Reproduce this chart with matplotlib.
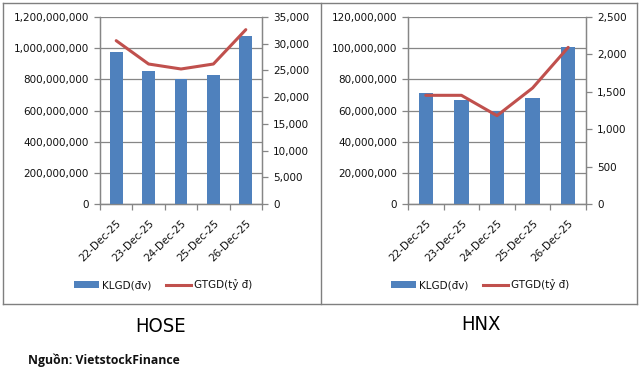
import matplotlib
matplotlib.use("Agg")
import matplotlib.pyplot as plt
from matplotlib.ticker import FuncFormatter, MultipleLocator
from matplotlib.patches import Patch
from matplotlib.lines import Line2D

dates = ["22-Dec-25", "23-Dec-25", "24-Dec-25", "25-Dec-25", "26-Dec-25"]
hose_vol = [977e6, 856e6, 804e6, 830e6, 1080e6]
hose_val = [30570, 26200, 25270, 26200, 32630]
hnx_vol = [71.4e6, 67.0e6, 59.7e6, 68.2e6, 101e6]
hnx_val = [1453, 1453, 1181, 1551, 2094]
legend_labels = ["KLGD(\u0111v)", "GTGD(t\u1ef7 \u0111)"]
titles = ["HOSE", "HNX"]
source = "Ngu\u1ed3n: VietstockFinance"

W, H = 639, 373
fig = plt.figure(figsize=(W / 100, H / 100), dpi=100)
plt.rcParams['font.family'] = ['DejaVu Sans']

BAR = "#4F81BD"
LINE = "#C0504D"
GRID = "#868686"
FS = 7.5

def fx(px):
    return px / W

def fy(py):
    return 1 - py / H

fmt = FuncFormatter(lambda v, p: f"{int(round(v)):,}")

def panel(left_px, right_px, vol, val, ymax1, step1, ymax2, step2, legend_cx):
    ax = fig.add_axes([fx(left_px), fy(204), fx(right_px - left_px), (204 - 17) / H])
    x = list(range(len(dates)))
    ax.bar(x, vol, width=0.4, color=BAR, zorder=3)
    ax.set_xlim(-0.5, len(dates) - 0.5)
    ax.set_ylim(0, ymax1)
    ax.yaxis.set_major_locator(MultipleLocator(step1))
    ax.yaxis.set_major_formatter(fmt)
    ax.grid(axis="y", color=GRID, lw=0.9, zorder=0)
    ax.set_axisbelow(True)
    ax2 = ax.twinx()
    ax2.plot(x, val, color=LINE, lw=2.2, zorder=4, solid_capstyle="round")
    ax2.set_ylim(0, ymax2)
    ax2.yaxis.set_major_locator(MultipleLocator(step2))
    ax2.yaxis.set_major_formatter(fmt)
    for a in (ax, ax2):
        a.spines["top"].set_visible(False)
        for s in ("left", "right", "bottom"):
            a.spines[s].set_color(GRID)
            a.spines[s].set_linewidth(0.9)
        a.tick_params(axis="y", length=4, width=0.9, color=GRID, labelsize=FS, pad=4, labelcolor="#111111")
    ax.set_xticks([i - 0.5 for i in range(len(dates) + 1)])
    ax.set_xticklabels([])
    ax.set_xticks(x, minor=True)
    ax.set_xticklabels(dates, minor=True, rotation=45, ha="right", va="top",
                       rotation_mode="anchor", fontsize=FS, color="#111111")
    ax.tick_params(axis="x", which="major", length=4, width=0.9, color=GRID)
    ax.tick_params(axis="x", which="minor", length=0, pad=10)
    handles = [Patch(facecolor=BAR, edgecolor="none"),
               Line2D([0], [0], color=LINE, lw=2.2)]
    fig.legend(handles, legend_labels, loc="center", bbox_to_anchor=(fx(legend_cx), fy(285)),
               ncol=2, frameon=False, fontsize=FS, handlelength=2.4, handletextpad=0.3,
               columnspacing=1.4, borderpad=0, labelcolor="#111111")
    return ax

panel(100, 262, hose_vol, hose_val, 1.2e9, 2e8, 35000, 5000, 163)
panel(408, 586, hnx_vol, hnx_val, 120e6, 20e6, 2500, 500, 480)

# panel borders
bc = "#7F7F7F"
for xs, ys in [((3, 637), (3, 3)), ((3, 637), (304, 304)), ((3, 3), (3, 304)),
               ((637, 637), (3, 304)), ((321, 321), (3, 304))]:
    fig.add_artist(Line2D([fx(xs[0]), fx(xs[1])], [fy(ys[0]), fy(ys[1])], color=bc, lw=1.0))

fig.text(fx(161), fy(327), titles[0], ha="center", va="center", fontsize=14.5,
         family=['DejaVu Sans'], fontstretch="condensed", color="#000000")
fig.text(fx(481), fy(325), titles[1], ha="center", va="center", fontsize=14.5,
         family=['DejaVu Sans'], fontstretch="condensed", color="#000000")
fig.text(fx(28), fy(360), source, ha="left", va="center", fontsize=8.8, fontweight="bold",
         family=['Open Sans', 'DejaVu Sans'], color="#111111")

fig.savefig("out.png", dpi=100)
